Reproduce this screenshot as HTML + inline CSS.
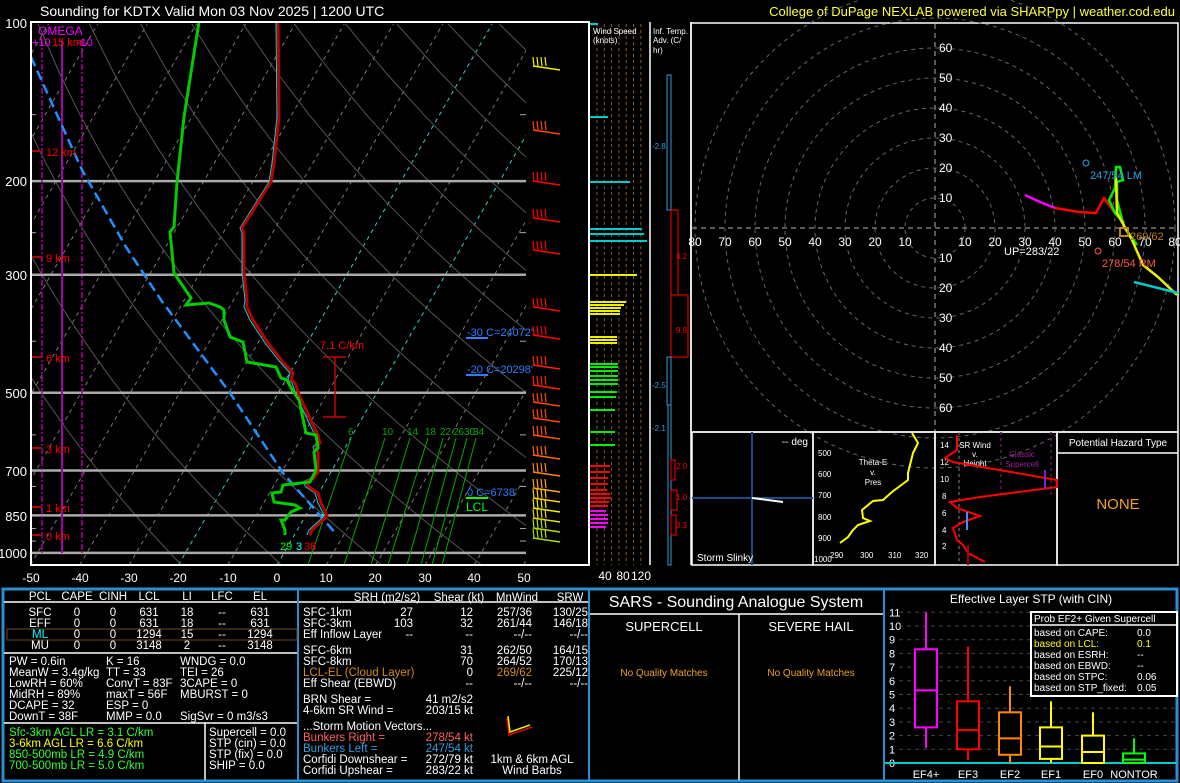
<!DOCTYPE html>
<html><head><meta charset="utf-8"><style>
html,body{margin:0;padding:0;background:#000;}
svg{display:block;font-family:"Liberation Sans",sans-serif;}
</style></head><body>
<svg id="s" width="1180" height="783" viewBox="0 0 1180 783" xmlns="http://www.w3.org/2000/svg">
<rect width="1180" height="783" fill="#000"/>
<defs><clipPath id="ck"><rect x="31" y="24" width="495" height="541"/></clipPath></defs>
<g id="skew" clip-path="url(#ck)"></g>
<g id="dyn"></g>
<rect x="31" y="22" width="558" height="543" fill="none" stroke="#fff" stroke-width="2"/>
<g font-size="13" fill="#fff" text-anchor="end">
<text x="27" y="28">100</text><text x="27" y="186">200</text><text x="27" y="280">300</text><text x="27" y="398">500</text><text x="27" y="476">700</text><text x="27" y="521">850</text><text x="27" y="558">1000</text>
</g>
<g font-size="12" fill="#fff" text-anchor="middle">
<text x="31" y="582">-50</text><text x="80" y="582">-40</text><text x="129" y="582">-30</text><text x="178" y="582">-20</text><text x="228" y="582">-10</text><text x="277" y="582">0</text><text x="326" y="582">10</text><text x="375" y="582">20</text><text x="425" y="582">30</text><text x="474" y="582">40</text><text x="524" y="582">50</text>
<text x="605" y="580">40</text><text x="623" y="580">80</text><text x="641" y="580">120</text>
</g>
<text x="40" y="16" font-size="14" fill="#fff">Sounding for KDTX Valid  Mon 03 Nov 2025 | 1200 UTC</text>
<text x="1175" y="16" font-size="13" fill="#ffff33" text-anchor="end">College of DuPage NEXLAB powered via SHARPpy | weather.cod.edu</text>
<text x="38" y="35" font-size="12" fill="#f0f">OMEGA</text>
<text x="32" y="46" font-size="11" fill="#f0f">+10</text><text x="52" y="46" font-size="11" fill="#f00">15 km</text><text x="77" y="46" font-size="11" fill="#f0f">-10</text>
<g font-size="11" fill="#f00">
<text x="46" y="156">12 km</text><text x="46" y="262">9 km</text><text x="46" y="362">6 km</text><text x="46" y="453">3 km</text><text x="46" y="512">1 km</text><text x="46" y="540">0 km</text>
<text x="320" y="349">7.1 C/km</text>
</g>
<g stroke="#c00" stroke-width="1.5"><line x1="335" y1="357" x2="335" y2="417"/><line x1="323" y1="357" x2="346" y2="357"/><line x1="323" y1="417" x2="346" y2="417"/></g>
<g font-size="11" fill="#2f7fff">
<text x="467" y="336">-30 C=24072'</text><text x="467" y="373">-20 C=20298'</text><text x="467" y="496">0 C=6738'</text>
</g>
<g stroke="#2f7fff" stroke-width="2"><line x1="466" y1="338" x2="488" y2="338"/><line x1="466" y1="375" x2="488" y2="375"/></g>
<line x1="466" y1="498" x2="488" y2="498" stroke="#0f0" stroke-width="2"/>
<text x="466" y="511" font-size="12" fill="#0f0">LCL</text>
<text x="280" y="550" font-size="11" fill="#0f0">29</text><text x="296" y="550" font-size="11" fill="#0ff">3</text><text x="304" y="550" font-size="11" fill="#f00">38</text>

<text x="593" y="34" font-size="8" fill="#fff">Wind Speed</text><text x="593" y="43" font-size="8" fill="#fff">(knots)</text>
<line x1="650" y1="22" x2="650" y2="565" stroke="#fff" stroke-width="1.5"/>
<line x1="691" y1="22" x2="691" y2="565" stroke="#fff" stroke-width="1.5"/>
<text x="653" y="34" font-size="8" fill="#fff">Inf. Temp.</text><text x="653" y="43" font-size="8" fill="#fff">Adv. (C/</text><text x="653" y="53" font-size="8" fill="#fff">hr)</text>
<g fill="none" stroke-width="1">
<rect x="667" y="75" width="4" height="135" stroke="#3399dd"/>
<rect x="671" y="210" width="7" height="85" stroke="#f00"/>
<rect x="671" y="295" width="17" height="62" stroke="#f00"/>
<rect x="667" y="357" width="4" height="48" stroke="#3399dd"/>
<rect x="668" y="405" width="3" height="160" stroke="#3399dd"/>
<rect x="671" y="460" width="4" height="20" stroke="#f00"/>
<rect x="671" y="490" width="6" height="20" stroke="#f00"/>
<rect x="671" y="515" width="5" height="20" stroke="#f00"/>
</g>
<g font-size="8">
<text x="652" y="149" fill="#3399dd">-2.8</text><text x="676" y="259" fill="#f00">4.2</text><text x="676" y="333" fill="#f00">9.8</text><text x="652" y="388" fill="#3399dd">-2.5</text><text x="652" y="431" fill="#3399dd">-2.1</text><text x="676" y="469" fill="#f00">2.0</text><text x="676" y="500" fill="#f00">1.0</text><text x="676" y="528" fill="#f00">3.3</text>
</g>

<rect x="691" y="23" width="487" height="409" fill="none" stroke="#fff" stroke-width="1.5"/>
<g id="hodo"></g>

<g fill="none" stroke="#fff" stroke-width="1.5">
<rect x="692" y="432" width="121" height="133"/><rect x="813" y="432" width="122" height="133"/><rect x="935" y="432" width="122" height="133"/><rect x="1057" y="432" width="121" height="133"/>
<line x1="1057" y1="453" x2="1178" y2="453"/>
</g>
<line x1="752" y1="432" x2="752" y2="565" stroke="#1a4a88" stroke-width="2"/>
<line x1="692" y1="498" x2="813" y2="498" stroke="#1a4a88" stroke-width="2"/>
<line x1="752" y1="498" x2="783" y2="502" stroke="#fff" stroke-width="2"/>
<text x="808" y="445" font-size="10" fill="#fff" text-anchor="end">-- deg</text>
<text x="697" y="561" font-size="10" fill="#fff">Storm Slinky</text>
<g font-size="8" fill="#fff"><text x="818" y="456">500</text><text x="818" y="477">600</text><text x="818" y="498">700</text><text x="818" y="520">800</text><text x="818" y="541">900</text><text x="814" y="562">1000</text>
<text x="830" y="558">290</text><text x="860" y="558">300</text><text x="888" y="558">310</text><text x="915" y="558">320</text>
<text x="873" y="465" text-anchor="middle">Theta-E</text><text x="873" y="475" text-anchor="middle">v.</text><text x="873" y="485" text-anchor="middle">Pres</text>
<text x="940" y="448">14</text><text x="940" y="465">12</text><text x="940" y="482">10</text><text x="942" y="499">8</text><text x="942" y="516">6</text><text x="942" y="533">4</text><text x="942" y="549">2</text>
<text x="975" y="448" text-anchor="middle">SR Wind</text><text x="975" y="457" text-anchor="middle">v.</text><text x="975" y="466" text-anchor="middle">Height</text>
</g>
<g font-size="8" fill="#a020a0" text-anchor="middle"><text x="1022" y="457">Classic</text><text x="1022" y="467">Supercell</text></g>
<polyline fill="none" stroke="#ff0" stroke-width="2" points="912,433 918,443 913,453 908,473 908,480 892,492 883,500 873,501 862,510 863,518 870,521 858,525 853,530 848,537 840,543"/>
<line x1="959" y1="432" x2="959" y2="565" stroke="#888" stroke-dasharray="3,3"/>
<line x1="1001" y1="432" x2="1001" y2="495" stroke="#5a1a5a" stroke-dasharray="3,3" stroke-width="1.5"/>
<line x1="1051" y1="432" x2="1051" y2="495" stroke="#5a1a5a" stroke-dasharray="3,3" stroke-width="1.5"/>
<polyline fill="none" stroke="#f00" stroke-width="2" points="957,435 957,450 945,458 953,462 1057,480 1057,487 980,497 950,502 957,508 980,516 963,522 953,528 957,540 963,545 968,553 985,562"/>
<line x1="967" y1="512" x2="967" y2="530" stroke="#4a8aff" stroke-width="2"/>
<line x1="1045" y1="470" x2="1045" y2="489" stroke="#8020d0" stroke-width="2"/>
<line x1="968" y1="545" x2="968" y2="565" stroke="#a00" stroke-width="2"/>
<text x="1118" y="446" font-size="10" fill="#fff" text-anchor="middle">Potential Hazard Type</text>
<text x="1118" y="509" font-size="15" fill="#f0a020" text-anchor="middle">NONE</text>

<rect x="3" y="589" width="1174" height="192" fill="none" stroke="#2a8fd0" stroke-width="3"/>
<line x1="298" y1="589" x2="298" y2="781" stroke="#2a8fd0" stroke-width="2"/>
<line x1="589" y1="589" x2="589" y2="781" stroke="#2a8fd0" stroke-width="2"/>
<line x1="884" y1="589" x2="884" y2="781" stroke="#2a8fd0" stroke-width="2"/>
<g stroke="#fff" stroke-width="1.5">
<line x1="4" y1="602" x2="297" y2="602"/><line x1="4" y1="653" x2="297" y2="653"/><line x1="4" y1="723" x2="297" y2="723"/><line x1="205" y1="723" x2="205" y2="780"/>
<line x1="299" y1="602" x2="588" y2="602"/>
<line x1="590" y1="614" x2="883" y2="614"/><line x1="739" y1="614" x2="739" y2="780"/>
</g>
<rect x="7" y="629" width="290" height="11" fill="none" stroke="#6a4a2a"/>
<g font-size="11.5" fill="#fff" text-anchor="middle">
<text x="40" y="600">PCL</text><text x="77" y="600">CAPE</text><text x="113" y="600">CINH</text><text x="149" y="600">LCL</text><text x="187" y="600">LI</text><text x="222" y="600">LFC</text><text x="260" y="600">EL</text>
<text x="40" y="616">SFC</text><text x="77" y="616">0</text><text x="113" y="616">0</text><text x="149" y="616">631</text><text x="187" y="616">18</text><text x="222" y="616">--</text><text x="260" y="616">631</text>
<text x="40" y="627">EFF</text><text x="77" y="627">0</text><text x="113" y="627">0</text><text x="149" y="627">631</text><text x="187" y="627">18</text><text x="222" y="627">--</text><text x="260" y="627">631</text>
<text x="40" y="638" fill="#0ff">ML</text><text x="77" y="638">0</text><text x="113" y="638">0</text><text x="149" y="638">1294</text><text x="187" y="638">15</text><text x="222" y="638">--</text><text x="260" y="638">1294</text>
<text x="40" y="649">MU</text><text x="77" y="649">0</text><text x="113" y="649">0</text><text x="149" y="649">3148</text><text x="187" y="649">2</text><text x="222" y="649">--</text><text x="260" y="649">3148</text>
</g>
<g font-size="11.5" fill="#fff">
<text x="9" y="665">PW = 0.6in</text><text x="106" y="665">K = 16</text><text x="180" y="665">WNDG = 0.0</text>
<text x="9" y="676">MeanW = 3.4g/kg</text><text x="106" y="676">TT = 33</text><text x="180" y="676">TEI = 26</text>
<text x="9" y="687">LowRH = 60%</text><text x="106" y="687">ConvT = 83F</text><text x="180" y="687">3CAPE = 0</text>
<text x="9" y="698">MidRH = 89%</text><text x="106" y="698">maxT = 56F</text><text x="180" y="698">MBURST = 0</text>
<text x="9" y="709">DCAPE = 32</text><text x="106" y="709">ESP = 0</text>
<text x="9" y="720">DownT = 38F</text><text x="106" y="720">MMP = 0.0</text><text x="180" y="720">SigSvr = 0 m3/s3</text>
<text x="9" y="736" fill="#3f3">Sfc-3km AGL LR = 3.1 C/km</text>
<text x="9" y="747" fill="#ff0">3-6km AGL LR = 6.6 C/km</text>
<text x="9" y="758" fill="#3f3">850-500mb LR = 4.9 C/km</text>
<text x="9" y="769" fill="#3f3">700-500mb LR = 5.0 C/km</text>
<text x="209" y="736">Supercell = 0.0</text><text x="209" y="747">STP (cin) = 0.0</text><text x="209" y="758">STP (fix) = 0.0</text><text x="209" y="769">SHIP = 0.0</text>
<text x="303" y="616">SFC-1km</text><text x="303" y="627">SFC-3km</text><text x="303" y="638">Eff Inflow Layer</text>
<text x="303" y="654">SFC-6km</text><text x="303" y="665">SFC-8km</text><text x="303" y="676" fill="#d08a20">LCL-EL (Cloud Layer)</text><text x="303" y="687">Eff Shear (EBWD)</text>
<text x="303" y="703">BRN Shear =</text><text x="303" y="714">4-6km SR Wind =</text>
<text x="303" y="730">...Storm Motion Vectors...</text>
<text x="303" y="741" fill="#ff6060">Bunkers Right =</text><text x="303" y="752" fill="#2a9fe0">Bunkers Left =</text>
<text x="303" y="763">Corfidi Downshear =</text><text x="303" y="774">Corfidi Upshear =</text>
</g>
<g font-size="11.5" fill="#fff" text-anchor="middle">
<text x="387" y="601">SRH (m2/s2)</text><text x="459" y="601">Shear (kt)</text><text x="517" y="601">MnWind</text><text x="570" y="601">SRW</text>
<text x="532" y="763">1km &amp; 6km AGL</text><text x="532" y="774">Wind Barbs</text>
</g>
<g font-size="11.5" fill="#fff" text-anchor="end">
<text x="413" y="616">27</text><text x="473" y="616">12</text><text x="532" y="616">257/36</text><text x="588" y="616">130/25</text>
<text x="413" y="627">103</text><text x="473" y="627">32</text><text x="532" y="627">261/44</text><text x="588" y="627">146/18</text>
<text x="413" y="638">--</text><text x="473" y="638">--</text><text x="532" y="638">--/--</text><text x="588" y="638">--/--</text>
<text x="473" y="654">31</text><text x="532" y="654">262/50</text><text x="588" y="654">164/15</text>
<text x="473" y="665">70</text><text x="532" y="665">264/52</text><text x="588" y="665">170/13</text>
<text x="473" y="676">0</text><text x="532" y="676" fill="#d08a20">269/62</text><text x="588" y="676">225/12</text>
<text x="473" y="687">--</text><text x="532" y="687">--/--</text><text x="588" y="687">--/--</text>
<text x="473" y="703">41 m2/s2</text><text x="473" y="714">203/15 kt</text>
<text x="473" y="741" fill="#ff6060">278/54 kt</text><text x="473" y="752" fill="#2a9fe0">247/54 kt</text>
<text x="473" y="763">272/79 kt</text><text x="473" y="774">283/22 kt</text>
</g>
<g stroke-width="1.5" fill="none"><polyline points="507,718 509,735 532,727" stroke="#e00"/><polyline points="508,716 510,732 530,725" stroke="#ee0"/></g>
<text x="736" y="607" font-size="16" fill="#fff" text-anchor="middle">SARS - Sounding Analogue System</text>
<text x="664" y="631" font-size="13" fill="#fff" text-anchor="middle">SUPERCELL</text>
<text x="811" y="631" font-size="13" fill="#fff" text-anchor="middle">SEVERE HAIL</text>
<text x="664" y="676" font-size="10" fill="#f0a020" text-anchor="middle">No Quality Matches</text>
<text x="811" y="676" font-size="10" fill="#f0a020" text-anchor="middle">No Quality Matches</text>
<text x="1031" y="603" font-size="12" fill="#fff" text-anchor="middle">Effective Layer STP (with CIN)</text>
<g id="stp"></g>
<rect x="1031" y="612" width="146" height="84" fill="#000" stroke="#fff" stroke-width="2"/>
<line x1="1031" y1="625" x2="1177" y2="625" stroke="#fff" stroke-width="1.5"/>
<g font-size="10" fill="#fff">
<text x="1034" y="622">Prob EF2+ Given Supercell</text>
<text x="1034" y="636">based on CAPE:</text><text x="1137" y="636">0.0</text>
<text x="1034" y="647" fill="#ff0">based on LCL:</text><text x="1137" y="647" fill="#ff0">0.1</text>
<text x="1034" y="658">based on ESRH:</text><text x="1137" y="658">--</text>
<text x="1034" y="669">based on EBWD:</text><text x="1137" y="669">--</text>
<text x="1034" y="680">based on STPC:</text><text x="1137" y="680">0.06</text>
<text x="1034" y="691">based on STP_fixed:</text><text x="1137" y="691">0.05</text>
</g>
<script>
(function(){
var NS='http://www.w3.org/2000/svg';
function el(par,tag,a,txt){var e=document.createElementNS(NS,tag);for(var k in a)e.setAttribute(k,a[k]);if(txt!=null)e.textContent=txt;document.getElementById(par).appendChild(e);return e;}
function X(T,y){return 277+4.93*T+0.58*(565-y);}
function Y(p){return 21+231*Math.log(p/100);}
for(var T=-130;T<=50;T+=10){
 var c=(T==-20||T==0)?'#3cc':'#777';
 el('skew','line',{x1:X(T,565),y1:565,x2:X(T,24),y2:24,stroke:c,'stroke-dasharray':'4,4','stroke-width':1});
}
for(var th=250;th<=490;th+=20){
 var pts=[];for(var p=100;p<=1050;p+=25){var t=th*Math.pow(p/1000,0.286)-273.15;var y=Y(p);pts.push(X(t,y).toFixed(1)+','+y.toFixed(1));}
 el('skew','polyline',{points:pts.join(' '),fill:'none',stroke:'#555','stroke-width':1});
}
[200,300,500,700,850,1000].forEach(function(p){var y=Y(p);el('skew','line',{x1:31,y1:y,x2:526,y2:y,stroke:'#aaa','stroke-width':2.5});});
var tops=[351,385,410,428,443,456,467,476],bots=[314,350,377,394,413,427,438,448],lb=['6','10','14','18','22','26','30','34'];
for(var i=0;i<8;i++){el('skew','line',{x1:tops[i],y1:438,x2:bots[i]-6,y2:565,stroke:'#0a0','stroke-width':1});el('dyn','text',{x:tops[i]-3,y:435,'font-size':10,fill:'#0a0'},lb[i]);}
el('dyn','line',{x1:62,y1:40,x2:62,y2:553,stroke:'#a0a','stroke-width':2});
el('dyn','line',{x1:42,y1:40,x2:42,y2:553,stroke:'#a0a','stroke-dasharray':'6,2,2,2','stroke-width':1.5});
el('dyn','line',{x1:82,y1:40,x2:82,y2:553,stroke:'#a0a','stroke-dasharray':'6,2,2,2','stroke-width':1.5});
[151,257,357,448,507,535].forEach(function(y){el('dyn','line',{x1:31,y1:y,x2:42,y2:y,stroke:'#a00','stroke-width':2});});
[150,250,400,600,750,900,950].forEach(function(p){var y=Y(p);el('dyn','line',{x1:31,y1:y,x2:36,y2:y,stroke:'#aaa'});el('dyn','line',{x1:520,y1:y,x2:526,y2:y,stroke:'#aaa'});});
el('dyn','polyline',{points:'31,57 82,170 126,247 161,300 230,393 283,473 337,535',fill:'none',stroke:'#1e90ff','stroke-width':2.5,'stroke-dasharray':'10,5'});
var red='310,535 312,530 325,518 327,515 321,503 318,493 309,487 306,482 314,478 318,472 318,452 316,447 320,443 318,435 312,423 306,410 300,397 295,383 291,380 293,373 283,362 268,343 253,320 247,307 247,300 244,273 244,233 242,228 271,182 274,163 279,117 278,22';
var cy=red.split(' ').map(function(s){var a=s.split(',');var y=+a[1];var d=y>300?3:2;return (+a[0]-d)+','+y;}).join(' ');
el('dyn','polyline',{points:cy,fill:'none',stroke:'#0dd','stroke-width':1});
el('dyn','polyline',{points:red,fill:'none',stroke:'#b00','stroke-width':3});
el('dyn','polyline',{points:'199,22 195,47 184,117 177,182 174,227 170,232 174,273 191,298 186,305 209,303 220,307 224,310 224,320 230,337 243,342 247,362 276,367 281,378 287,380 291,388 299,400 306,433 316,435 318,448 314,452 316,470 310,482 283,485 281,492 272,493 274,502 295,505 300,508 291,512 285,520 281,520 285,530 285,535',fill:'none',stroke:'#0c0','stroke-width':3});
var bys=[[66,'#ee0'],[130,'#f40'],[181,'#f00'],[218,'#f00'],[250,'#f00'],[307,'#f00'],[335,'#f00'],[365,'#f20'],[385,'#f20'],[402,'#f40'],[418,'#f40'],[435,'#f50'],[455,'#f60'],[472,'#f80'],[488,'#fa0'],[498,'#fc0'],[508,'#ee0'],[518,'#dd0'],[528,'#bd0'],[538,'#ad0']];
bys.forEach(function(b){var y=b[0];el('dyn','line',{x1:533,y1:y,x2:560,y2:y+4,stroke:b[1],'stroke-width':1.5});
 for(var k=0;k<4;k++){var x=534+k*4;el('dyn','line',{x1:x,y1:y,x2:x-1,y2:y-9,stroke:b[1],'stroke-width':1.2});}});
for(var x=597;x<=641;x+=7.3){el('dyn','line',{x1:x,y1:24,x2:x,y2:565,stroke:'#8a5a2a','stroke-dasharray':'3,3'});}
var ws=[[24,'#0cc',8],[117,'#0cc',18],[182,'#0cc',40],[229,'#0cc',52],[234,'#0cc',54],[241,'#0cc',57],[275,'#ee0',47],[302,'#ee0',36],[305,'#ee0',34],[308,'#ee0',31],[311,'#ee0',30],[314,'#ee0',30],[337,'#ee0',27],[340,'#ee0',27],[343,'#ee0',27],[364,'#0e0',28],[367,'#0e0',28],[371,'#0e0',28],[376,'#0e0',28],[380,'#0e0',28],[384,'#0e0',28],[392,'#0e0',27],[397,'#0e0',26],[410,'#0e0',25],[432,'#0e0',25],[445,'#0e0',25],[466,'#f00',20],[472,'#f00',20],[478,'#f00',18],[484,'#f00',18],[490,'#f00',17],[494,'#f00',20],[498,'#f00',21],[502,'#f00',19],[506,'#f00',18],[511,'#f0f',16],[515,'#f0f',18],[519,'#f0f',18],[523,'#f0f',18],[527,'#f0f',16]];
ws.forEach(function(w){el('dyn','line',{x1:590,y1:w[0],x2:590+w[2],y2:w[0],stroke:w[1],'stroke-width':2});});
var cx=935,cyy=228;
for(var r=1;r<=8;r++){el('hodo','circle',{cx:cx,cy:cyy,r:r*30,fill:'none',stroke:'#666','stroke-dasharray':'4,4'});}
el('hodo','line',{x1:692,y1:cyy,x2:1177,y2:cyy,stroke:'#777','stroke-dasharray':'5,4','stroke-width':1.5});
el('hodo','line',{x1:cx,y1:24,x2:cx,y2:431,stroke:'#777','stroke-dasharray':'5,4','stroke-width':1.5});
for(var k=1;k<=6;k++){el('hodo','text',{x:cx+4,y:cyy-k*30+4,'font-size':12,fill:'#fff'},k*10);el('hodo','text',{x:cx+4,y:cyy+k*30+4,'font-size':12,fill:'#fff'},k*10);}
for(var k=1;k<=8;k++){el('hodo','text',{x:cx+k*30,y:cyy+18,'font-size':12,fill:'#fff','text-anchor':'middle'},k*10);el('hodo','text',{x:cx-k*30,y:cyy+18,'font-size':12,fill:'#fff','text-anchor':'middle'},k*10);}
el('hodo','polyline',{points:'1025,195 1040,202 1055,208',fill:'none',stroke:'#f0f','stroke-width':2.5});
el('hodo','polyline',{points:'1055,208 1079,212 1096,213 1104,198 1115,213 1124,223',fill:'none',stroke:'#f00','stroke-width':2.5});
el('hodo','polyline',{points:'1124,223 1115,213 1109,200 1115,188 1116,167 1120,167 1123,180 1117,182 1117,200 1124,227 1137,245',fill:'none',stroke:'#0e0','stroke-width':2.5});
el('hodo','polyline',{points:'1116,177 1117,213 1132,240 1143,265 1158,277 1177,295',fill:'none',stroke:'#ee0','stroke-width':2.5});
el('hodo','line',{x1:1134,y1:282,x2:1178,y2:293,stroke:'#0cc','stroke-width':2.5});
el('hodo','circle',{cx:1086,cy:163,r:3,fill:'none',stroke:'#2a9fe0'});
el('hodo','circle',{cx:1098,cy:251,r:3,fill:'none',stroke:'#f55'});
el('hodo','rect',{x:1120,y:228,width:8,height:8,fill:'none',stroke:'#c08020','stroke-width':2});
el('hodo','text',{x:1090,y:179,'font-size':11,fill:'#2a9fe0'},'247/54 LM');
el('hodo','text',{x:1102,y:267,'font-size':11,fill:'#f55'},'278/54 RM');
el('hodo','text',{x:1130,y:240,'font-size':11,fill:'#c08020'},'269/62');
el('hodo','text',{x:1004,y:255,'font-size':11,fill:'#fff'},'UP=283/22');
function SY(v){return 763-v*13.7;}
for(var v=0;v<=11;v++){el('stp','text',{x:889,y:SY(v)+4,'font-size':11,fill:'#fff'},v);if(v>0)el('stp','line',{x1:899,y1:SY(v),x2:1177,y2:SY(v),stroke:'#444','stroke-dasharray':'4,4'});}
el('stp','line',{x1:885,y1:763,x2:1177,y2:763,stroke:'#0cc','stroke-width':2});
var bx=[[926,'EF4+','#f0f',1.1,2.6,5.3,8.3,11],[968,'EF3','#f00',0.2,1.0,2.4,4.5,8.5],[1010,'EF2','#f80',0,0.6,1.8,3.7,5.6],[1051,'EF1','#ff0',0,0.3,1.2,2.6,4.5],[1093,'EF0','#ff0',0,0,0.8,2.0,3.7],[1134,'NONTOR','#0f0',0,0,0.25,0.7,1.8]];
bx.forEach(function(b){var x=b[0],c=b[2];
 el('stp','line',{x1:x,y1:SY(b[3]),x2:x,y2:SY(b[7]),stroke:c,'stroke-width':2});
 el('stp','rect',{x:x-11,y:SY(b[6]),width:22,height:SY(b[4])-SY(b[6]),fill:'#000',stroke:c,'stroke-width':2});
 el('stp','line',{x1:x-11,y1:SY(b[5]),x2:x+11,y2:SY(b[5]),stroke:c,'stroke-width':2});
 el('stp','text',{x:x,y:778,'font-size':11,fill:'#fff','text-anchor':'middle'},b[1]);});
})();
</script>
</svg>
</body></html>
